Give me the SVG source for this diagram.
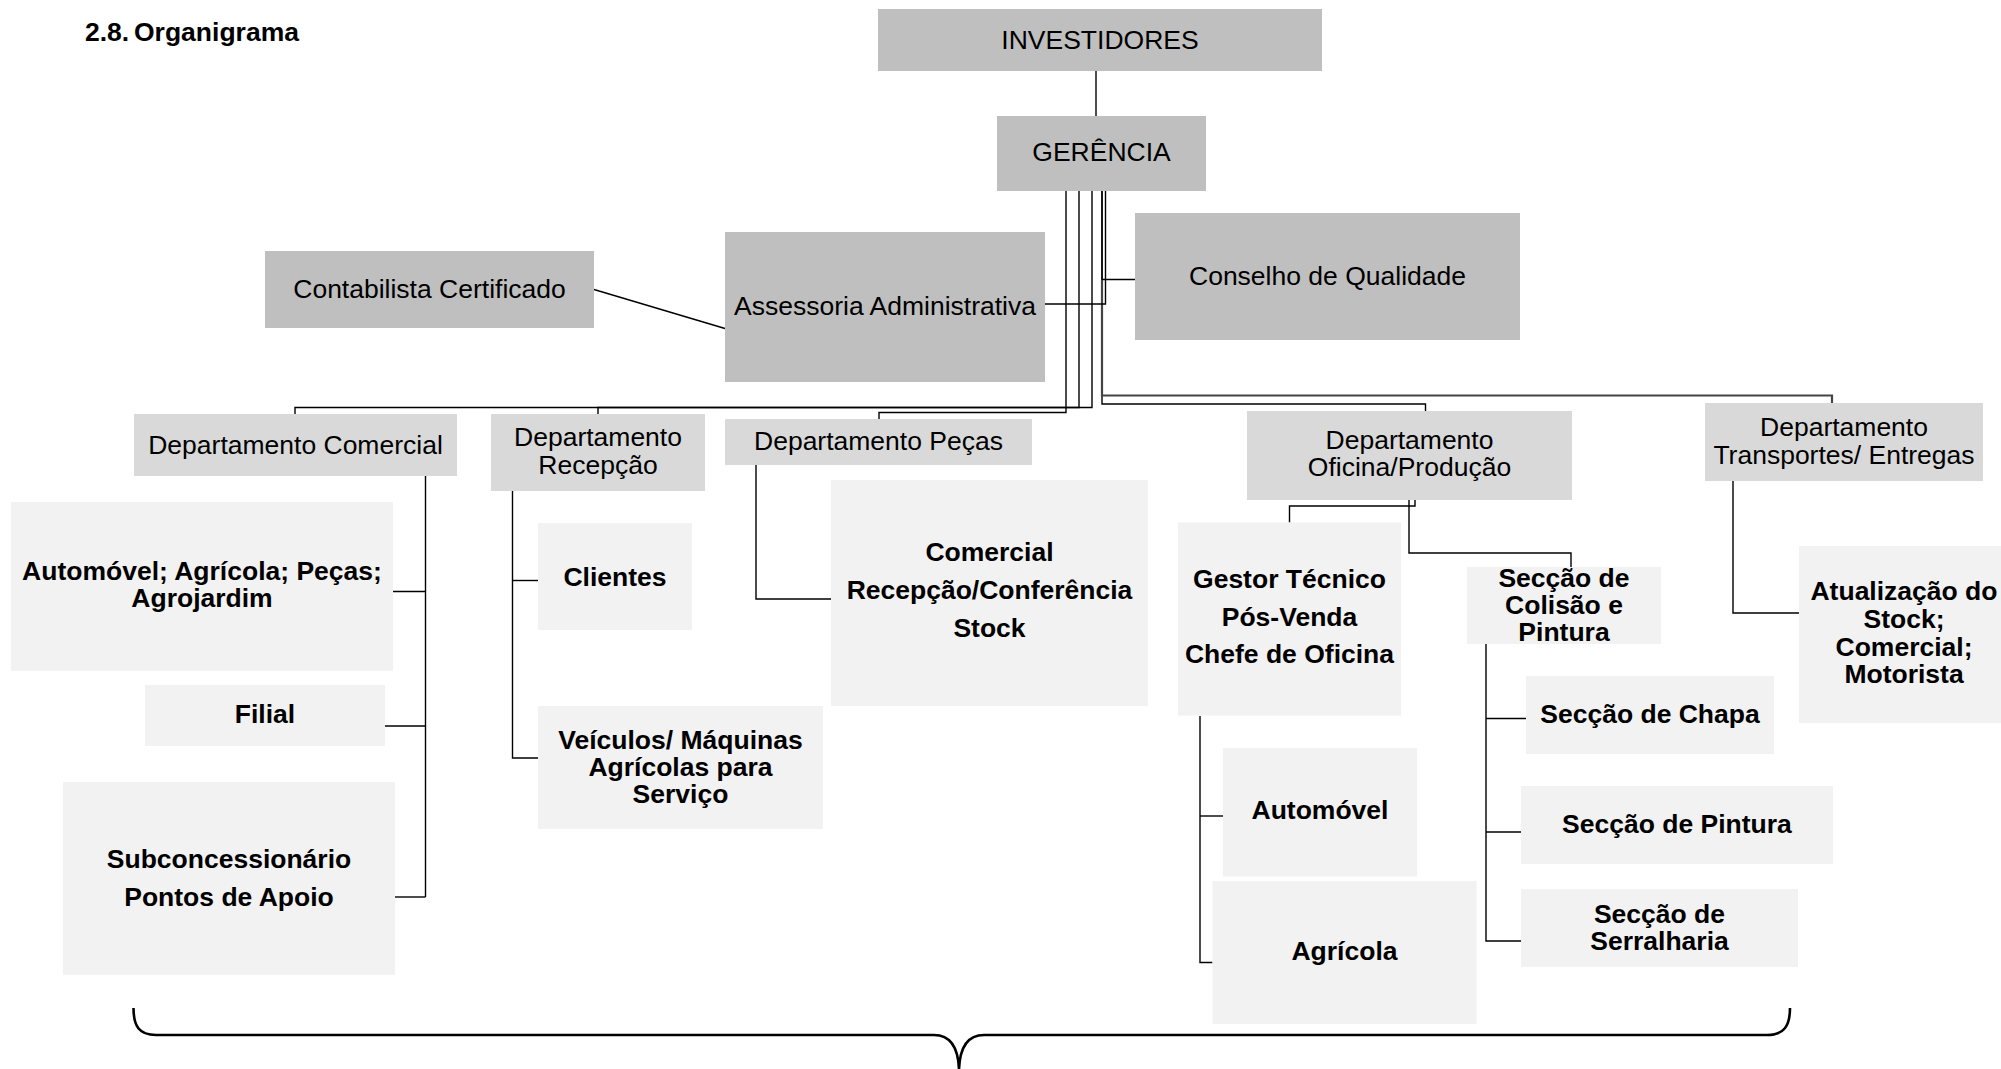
<svg xmlns="http://www.w3.org/2000/svg" width="2001" height="1069" viewBox="0 0 2001 1069">
<style>
text{font-family:"Liberation Sans",Arial,sans-serif;font-size:26.5px;fill:#000;text-anchor:middle}
.b{font-weight:bold}
.t{font-weight:bold;text-anchor:start}
.l0{fill:#bfbfbf}
.l1{fill:#d9d9d9}
.l2{fill:#f2f2f2}
.c path{fill:none;stroke:#000;stroke-width:1.4}
.c path.g{stroke:#444;stroke-width:2.2}
.br{fill:none;stroke:#000;stroke-width:2.6}
</style>
<rect width="2001" height="1069" fill="#fff"/>
<text class="t" x="85" y="41">2.8.<tspan x="134">Organigrama</tspan></text>

<g class="c" id="connectors">
<path d="M1096,71 V116"/>
<path d="M594,289.5 L725,328.5"/>
<path d="M1066,191 V412.5 H879 V419"/>
<path d="M1079,191 V407.5 H295 V414"/>
<path d="M1092,191 V407.5 H598 V414"/>
<path d="M1102,191 V279.5 H1135"/>
<path d="M1102,191 V404 H1425.5 V411"/>
<path class="g" d="M1102,280 V395.5 H1832 V403"/>
<path d="M1105.5,191 V304 H1045"/>
<path d="M425.5,476 V897"/>
<path d="M393,591.5 H425.5"/>
<path d="M385,726 H425.5"/>
<path d="M395,897 H425.5"/>
<path d="M512.5,491 V758 H538"/>
<path d="M512.5,580.5 H538"/>
<path d="M756,465 V599 H831"/>
<path d="M1415,500 V506 H1289.5 V522.5"/>
<path d="M1409,500 V553 H1571 V567"/>
<path d="M1200,716 V962.5 H1212.5"/>
<path d="M1200,816 H1223"/>
<path d="M1486,644 V941 H1521"/>
<path d="M1486,718.5 H1526"/>
<path d="M1486,832 H1521"/>
<path d="M1733,481 V613 H1799"/>
</g>

<g id="investidores"><rect class="l0" x="878" y="9" width="444" height="62"/><text x="1100" y="48.5">INVESTIDORES</text></g>
<g id="gerencia"><rect class="l0" x="997" y="116" width="209" height="75"/><text x="1101.5" y="161">GERÊNCIA</text></g>
<g id="contabilista"><rect class="l0" x="265" y="251" width="329" height="77"/><text x="429.5" y="297.5">Contabilista Certificado</text></g>
<g id="assessoria"><rect class="l0" x="725" y="232" width="320" height="150"/><text x="885" y="315">Assessoria Administrativa</text></g>
<g id="conselho"><rect class="l0" x="1135" y="213" width="385" height="127"/><text x="1327.5" y="285">Conselho de Qualidade</text></g>

<g id="dep-comercial"><rect class="l1" x="134" y="414" width="323" height="62"/><text x="295.5" y="453.6">Departamento Comercial</text></g>
<g id="dep-recepcao"><rect class="l1" x="491" y="414" width="214" height="77"/><text x="598" y="446">Departamento</text><text x="598" y="473.5">Recepção</text></g>
<g id="dep-pecas"><rect class="l1" x="725" y="419" width="307" height="46"/><text x="878.5" y="449.7">Departamento Peças</text></g>
<g id="dep-oficina"><rect class="l1" x="1247" y="411" width="325" height="89"/><text x="1409.5" y="449">Departamento</text><text x="1409.5" y="476">Oficina/Produção</text></g>
<g id="dep-transportes"><rect class="l1" x="1705" y="403" width="278" height="78"/><text x="1844" y="436">Departamento</text><text x="1844" y="464">Transportes/ Entregas</text></g>

<g id="automovel-agricola-pecas"><rect class="l2" x="11" y="502" width="382" height="169"/><text class="b" x="202" y="580">Automóvel; Agrícola; Peças;</text><text class="b" x="202" y="607">Agrojardim</text></g>
<g id="filial"><rect class="l2" x="145" y="685" width="240" height="61"/><text class="b" x="265" y="723.4">Filial</text></g>
<g id="subconcessionario"><rect class="l2" x="63" y="782" width="332" height="193"/><text class="b" x="229" y="867.7">Subconcessionário</text><text class="b" x="229" y="906">Pontos de Apoio</text></g>
<g id="clientes"><rect class="l2" x="538" y="523" width="154" height="107"/><text class="b" x="615" y="585.6">Clientes</text></g>
<g id="veiculos"><rect class="l2" x="538" y="706" width="285" height="123"/><text class="b" x="680.5" y="748.5">Veículos/ Máquinas</text><text class="b" x="680.5" y="776">Agrícolas para</text><text class="b" x="680.5" y="803">Serviço</text></g>
<g id="comercial-stock"><rect class="l2" x="831" y="480" width="317" height="226"/><text class="b" x="989.5" y="560.7">Comercial</text><text class="b" x="989.5" y="599">Recepção/Conferência</text><text class="b" x="989.5" y="637.3">Stock</text></g>
<g id="gestor"><rect class="l2" x="1178" y="522.5" width="223" height="193"/><text class="b" x="1289.5" y="587.5">Gestor Técnico</text><text class="b" x="1289.5" y="625.8">Pós-Venda</text><text class="b" x="1289.5" y="663.3">Chefe de Oficina</text></g>
<g id="colisao"><rect class="l2" x="1467" y="567" width="194" height="77"/><text class="b" x="1564" y="587">Secção de</text><text class="b" x="1564" y="613.6">Colisão e</text><text class="b" x="1564" y="640.8">Pintura</text></g>
<g id="automovel"><rect class="l2" x="1223" y="748" width="194" height="128.5"/><text class="b" x="1320" y="819">Automóvel</text></g>
<g id="agricola"><rect class="l2" x="1212.5" y="881" width="264" height="143"/><text class="b" x="1344.5" y="960">Agrícola</text></g>
<g id="chapa"><rect class="l2" x="1526" y="676" width="248" height="78"/><text class="b" x="1650" y="723">Secção de Chapa</text></g>
<g id="pintura"><rect class="l2" x="1521" y="786" width="312" height="78"/><text class="b" x="1677" y="833">Secção de Pintura</text></g>
<g id="serralharia"><rect class="l2" x="1521" y="889" width="277" height="78"/><text class="b" x="1659.5" y="922.7">Secção de</text><text class="b" x="1659.5" y="950">Serralharia</text></g>
<g id="atualizacao"><rect class="l2" x="1799" y="546" width="210" height="177"/><text class="b" x="1904" y="600">Atualização do</text><text class="b" x="1904" y="627.5">Stock;</text><text class="b" x="1904" y="655.5">Comercial;</text><text class="b" x="1904" y="683">Motorista</text></g>

<path class="br" d="M133.5,1008 C133.5,1026 139,1035 156,1035 H934 C950,1035 958,1046 959,1069 C960,1046 968,1035 984,1035 H1767 C1784,1035 1790,1026 1790,1008"/>
</svg>
